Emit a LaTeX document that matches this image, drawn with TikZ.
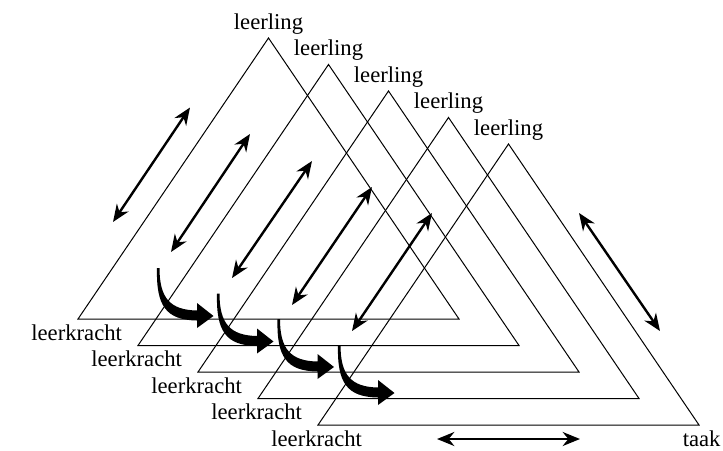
\documentclass[tikz,border=0pt]{standalone}
\usepackage{fontspec}
\setmainfont{Liberation Serif}
\usetikzlibrary{arrows.meta}
\begin{document}
\begin{tikzpicture}[x=0.75pt, y=-0.75pt,
    side/.style={line width=0.75pt, line join=miter},
    link/.style={line width=1.8pt, {Stealth[length=13pt,width=10.5pt]}-{Stealth[length=13pt,width=10.5pt]}},
    role/.style={font=\fontsize{17}{20}\selectfont, anchor=base, inner sep=0pt},
    bentarrow/.pic={\fill (-1,0) .. controls (-2,38) and (8,52) .. (39,52.5) -- (39,60) -- (55.5,48)
      -- (39,35) -- (39,42.5) .. controls (12,42) and (1.5,30) .. (1.5,0) -- cycle;}]
        \useasboundingbox (0,0) rectangle (723,450);
        % coordinates for the triangles
        \coordinate (leftA)   at ( 78, 319);
        \coordinate (rightA)  at (459, 319);
        \coordinate (topA)    at (268.5, 38);
        \coordinate (leftB)   at (138, 345.5);
        \coordinate (rightB)  at (519, 345.5);
        \coordinate (topB)    at (328.5, 64.5);
        \coordinate (leftC)   at (198, 372);
        \coordinate (rightC)  at (579, 372);
        \coordinate (topC)    at (388.5, 91);
        \coordinate (leftD)   at (258, 398.5);
        \coordinate (rightD)  at (639, 398.5);
        \coordinate (topD)    at (448.5, 117.5);
        \coordinate (leftE)   at (318, 425);
        \coordinate (rightE)  at (699, 425);
        \coordinate (topE)    at (508.5, 144);
        % coordinates for the arrows
        \coordinate (lowA)    at (113, 222);
        \coordinate (highA)   at (190, 107.5);
        \coordinate (lowB)    at (171, 252);
        \coordinate (highB)   at (250, 134);
        \coordinate (lowC)    at (232, 278);
        \coordinate (highC)   at (312, 161);
        \coordinate (lowD)    at (292, 305);
        \coordinate (highD)   at (372, 187);
        \coordinate (lowE)    at (352, 331);
        \coordinate (highE)   at (432, 213);
        \coordinate (taskhigh) at (579, 213);
        \coordinate (tasklow)  at (660, 331);
        \coordinate (baseleft)  at (437, 439);
        \coordinate (baseright) at (580, 439);
        \coordinate (bendA)   at (158, 268);
        \coordinate (bendB)   at (218, 293.5);
        \coordinate (bendC)   at (278.5, 319);
        \coordinate (bendD)   at (339, 345);
        % drawing the triangles
        \draw[side] (leftA) -- (rightA) -- (topA) -- cycle;
        \draw[side] (leftB) -- (rightB) -- (topB) -- cycle;
        \draw[side] (leftC) -- (rightC) -- (topC) -- cycle;
        \draw[side] (leftD) -- (rightD) -- (topD) -- cycle;
        \draw[side] (leftE) -- (rightE) -- (topE) -- cycle;
        % labels at the corners
        \node[role] (pupilA) at ([yshift=6.75pt]topA) {leerling};
        \node[role] (pupilB) at ([yshift=6.75pt]topB) {leerling};
        \node[role] (pupilC) at ([yshift=6.75pt]topC) {leerling};
        \node[role] (pupilD) at ([yshift=6.75pt]topD) {leerling};
        \node[role] (pupilE) at ([yshift=6.75pt]topE) {leerling};
        \node[role] (teacherA) at ([xshift=-1pt, yshift=-16.1pt]leftA) {leerkracht};
        \node[role] (teacherB) at ([xshift=-1pt, yshift=-16.1pt]leftB) {leerkracht};
        \node[role] (teacherC) at ([xshift=-1pt, yshift=-16.1pt]leftC) {leerkracht};
        \node[role] (teacherD) at ([xshift=-1pt, yshift=-16.1pt]leftD) {leerkracht};
        \node[role] (teacherE) at ([xshift=-1pt, yshift=-16.1pt]leftE) {leerkracht};
        \node[role] (task) at ([xshift=2pt, yshift=-16.1pt]rightE) {taak};
        % drawing the arrows
        \draw[link] (lowA) -- (highA);
        \draw[link] (lowB) -- (highB);
        \draw[link] (lowC) -- (highC);
        \draw[link] (lowD) -- (highD);
        \draw[link] (lowE) -- (highE);
        \draw[link] (taskhigh) -- (tasklow);
        \draw[link] (baseleft) -- (baseright);
        \pic at (bendA) {bentarrow};
        \pic at (bendB) {bentarrow};
        \pic at (bendC) {bentarrow};
        \pic at (bendD) {bentarrow};
      \end{tikzpicture}
\end{document}
